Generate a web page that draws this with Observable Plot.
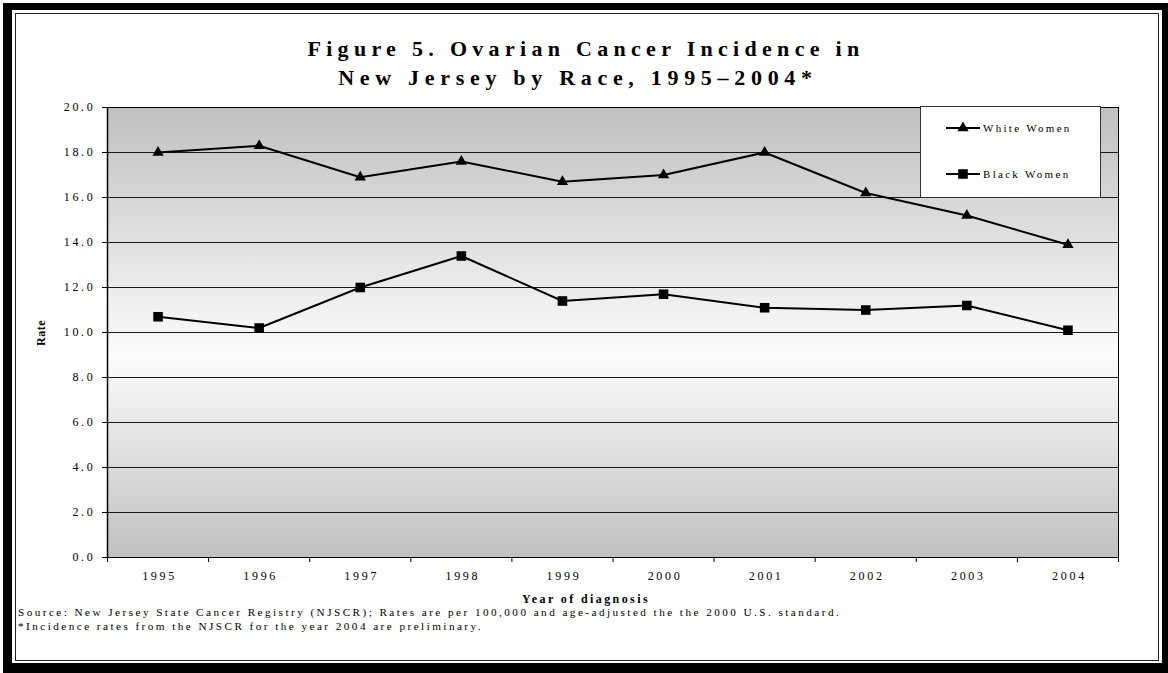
<!DOCTYPE html>
<html>
<head>
<meta charset="utf-8">
<script src="https://cdn.jsdelivr.net/npm/d3@7"></script>
<script src="https://cdn.jsdelivr.net/npm/@observablehq/plot@0.6"></script>
<style>
html, body { margin: 0; padding: 0; background: #fff; }
#wrap { position: relative; width: 1168px; height: 673px; overflow: hidden; font-family: "Liberation Serif", "Times New Roman", serif; color: #000; }
#outer { position: absolute; left: 3px; top: 3px; width: 1165px; height: 670px; background: #000; }
#inner { position: absolute; left: 12px; top: 10px; width: 1150px; height: 653px; background: #fff; }
#thin { position: absolute; left: 15px; top: 13px; width: 1144px; height: 648px; border: 1px solid #222; box-sizing: border-box; }
#chart { position: absolute; left: 0; top: 0; }
#title { position: absolute; left: 0; top: 34px; width: 1168px; text-align: center; font-weight: bold; font-size: 22px; line-height: 29px; letter-spacing: 5.3px; padding-left: 4px; box-sizing: border-box; }
#title .l2 { position: relative; left: -8px; letter-spacing: 5.7px; }
#xlabel { position: absolute; left: 0; top: 592px; width: 1168px; text-align: center; font-weight: bold; font-size: 12px; line-height: 14px; letter-spacing: 2.4px; padding-left: 4px; box-sizing: border-box; }
#notes { position: absolute; left: 18px; top: 605px; font-size: 11.2px; line-height: 14px; letter-spacing: 2.45px; white-space: nowrap; }
#ylabel { position: absolute; left: 41px; top: 333px; font-weight: bold; font-size: 12px; letter-spacing: 0.5px; transform: translate(-50%, -50%) rotate(-90deg); white-space: nowrap; }
#legend { position: absolute; left: 920px; top: 106px; width: 181px; height: 92px; background: #fff; border: 1px solid #333; box-sizing: border-box; }
#legend text { font-size: 11px; letter-spacing: 2.3px; }
g[aria-label="y-axis tick label"] text, g[aria-label="x-axis tick label"] text { letter-spacing: 2.7px; font-size: 12px; }
</style>
</head>
<body>
<svg width="0" height="0" style="position:absolute">
  <defs>
    <linearGradient id="bg" x1="0" y1="0" x2="0" y2="1">
      <stop offset="0" stop-color="#c0c0c0"/>
      <stop offset="0.55" stop-color="#fcfcfc"/>
      <stop offset="1" stop-color="#c0c0c0"/>
    </linearGradient>
  </defs>
</svg>
<div id="wrap">
  <div id="outer"></div>
  <div id="inner"></div>
  <div id="thin"></div>
  <div id="chart"></div>
  <div id="title">Figure 5. Ovarian Cancer Incidence in<br><span class="l2">New Jersey by Race, 1995–2004*</span></div>
  <div id="ylabel">Rate</div>
  <div id="xlabel">Year of diagnosis</div>
  <div id="notes">Source: New Jersey State Cancer Registry (NJSCR); Rates are per 100,000 and age-adjusted the the 2000 U.S. standard.<br>*Incidence rates from the NJSCR for the year 2004 are preliminary.</div>
  <div id="legend"></div>
</div>
<script>
const years = [1995, 1996, 1997, 1998, 1999, 2000, 2001, 2002, 2003, 2004];
const whiteWomen = [18.0, 18.3, 16.9, 17.6, 16.7, 17.0, 18.0, 16.2, 15.2, 13.9];
const blackWomen = [10.7, 10.2, 12.0, 13.4, 11.4, 11.7, 11.1, 11.0, 11.2, 10.1];
const seriesNames = ["White Women", "Black Women"];
const yTicks = [0, 2, 4, 6, 8, 10, 12, 14, 16, 18, 20];

const rows = years.flatMap((yr, i) => [
  {year: yr, rate: whiteWomen[i], series: seriesNames[0]},
  {year: yr, rate: blackWomen[i], series: seriesNames[1]}
]);
const boundaries = years.map(y => y - 0.5).concat([years[years.length - 1] + 0.5]);

const chart = Plot.plot({
  width: 1168,
  height: 673,
  marginLeft: 107,
  marginRight: 50,
  marginTop: 107,
  marginBottom: 116,
  style: {background: "transparent", fontFamily: "Liberation Serif, Times New Roman, serif", fontSize: "12px", color: "#000", overflow: "visible"},
  x: {domain: [boundaries[0], boundaries[boundaries.length - 1]], axis: null},
  y: {domain: [0, 20], axis: null},
  marks: [
    Plot.frame({fill: "url(#bg)"}),
    Plot.gridY(yTicks, {stroke: "#1a1a1a", strokeOpacity: 1}),
    Plot.axisY({ticks: yTicks, tickFormat: d3.format(".1f"), tickSize: 5, tickPadding: 7, label: null, fontSize: 12}),
    Plot.axisX({ticks: boundaries, tickSize: 5, tickFormat: () => "", label: null}),
    Plot.axisX({ticks: years, tickSize: 0, tickPadding: 14, tickFormat: d => String(d), label: null, dx: 1.5, fontSize: 12}),
    Plot.frame({stroke: "#000"}),
    Plot.ruleX([boundaries[0]], {stroke: "#000", strokeWidth: 1.5}),
    Plot.line(rows, {x: "year", y: "rate", z: "series", stroke: "#000", strokeWidth: 2}),
    Plot.dot(rows.filter(d => d.series === seriesNames[0]), {x: "year", y: "rate", symbol: "triangle", r: 4.2, fill: "#000", stroke: "none"}),
    Plot.dot(rows.filter(d => d.series === seriesNames[1]), {x: "year", y: "rate", symbol: "square", r: 5.4, fill: "#000", stroke: "none"})
  ]
});
document.getElementById("chart").appendChild(chart);

// legend
const leg = d3.select("#legend").append("svg").attr("width", 181).attr("height", 92).style("position", "absolute").style("left", "-1px").style("top", "-1px");
const symbols = [d3.symbol(d3.symbolTriangle, Math.PI * 4.2 * 4.2)(), d3.symbol(d3.symbolSquare, Math.PI * 5.4 * 5.4)()];
seriesNames.forEach((name, i) => {
  const y = i === 0 ? 22 : 68;
  const g = leg.append("g").attr("transform", `translate(0,${y})`);
  g.append("line").attr("x1", 26).attr("x2", 60).attr("stroke", "#000").attr("stroke-width", 2);
  g.append("path").attr("d", symbols[i]).attr("transform", "translate(43,0)").attr("fill", "#000");
  g.append("text").attr("x", 63).attr("y", 0).attr("dy", "0.35em").attr("font-family", "Liberation Serif, serif").text(name);
});
</script>
</body>
</html>
